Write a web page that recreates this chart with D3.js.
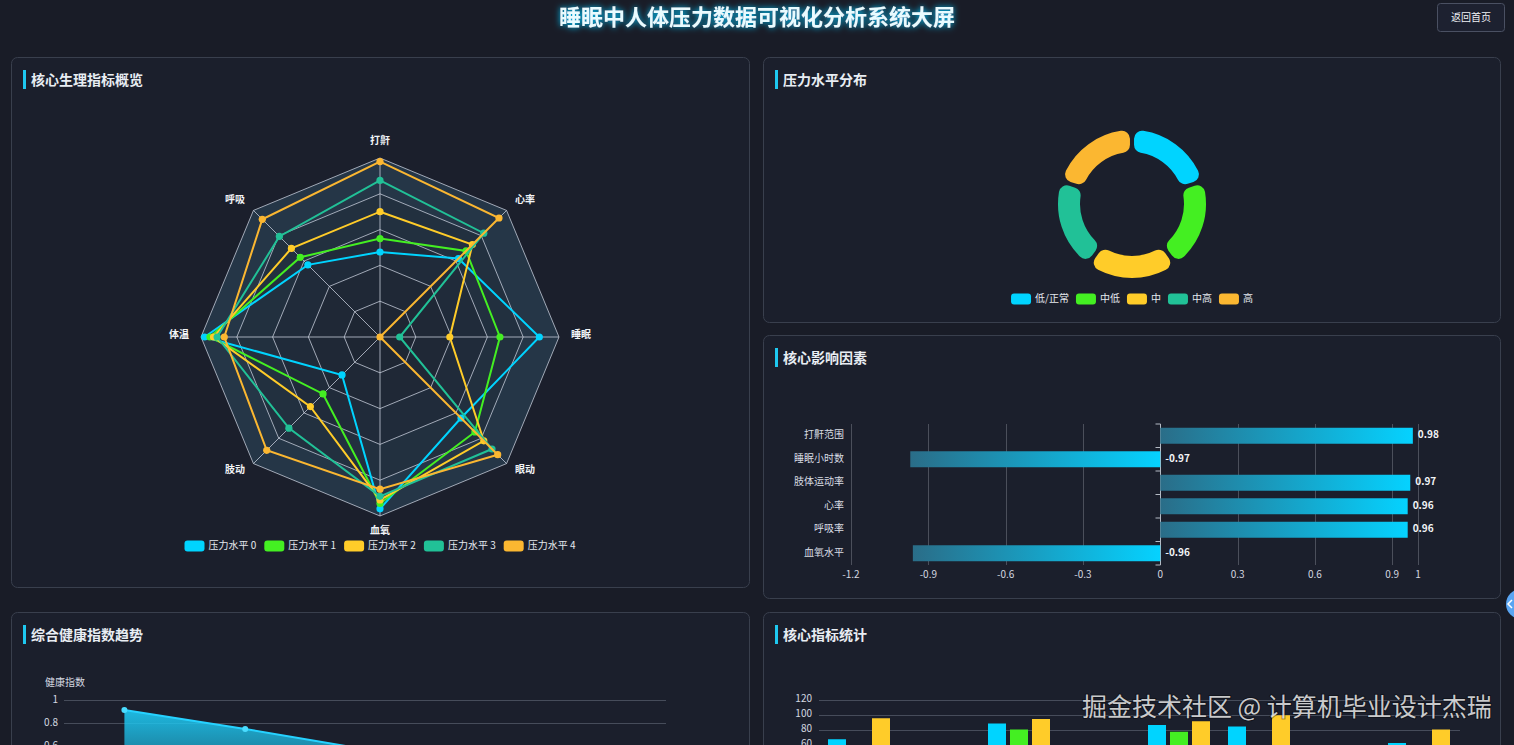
<!DOCTYPE html>
<html><head><meta charset="utf-8">
<script src="https://cdn.jsdelivr.net/npm/d3@7"></script>
<style>
html,body{margin:0;padding:0;background:#191c27;overflow:hidden}
svg{display:block;font-family:"Noto Sans CJK SC","Noto Sans",sans-serif}
</style></head><body>
<svg id="c" width="1514" height="745"></svg>
<script>
// ---------------- data ----------------
const radarIndicators = ['打鼾','心率','睡眠','眼动','血氧','肢动','体温','呼吸'];
const radarSeriesNames = ['压力水平 0','压力水平 1','压力水平 2','压力水平 3','压力水平 4'];
const radarLevel0 = [47.5, 62, 89, 64, 96, 30, 98, 57];
const radarLevel1 = [55, 68, 67, 75, 93, 45, 95, 63];
const radarLevel2 = [70, 73, 39, 82, 91, 55, 93, 70];
const radarLevel3 = [87.5, 82, 11, 88.5, 89, 72, 91, 79.5];
const radarLevel4 = [98, 94, 0, 93, 85, 89.5, 87, 93];
const radarMax = 100;

const stressLevels = ['低/正常','中低','中','中高','高'];
const stressCounts = [126, 126, 126, 126, 126];

const factorNames = ['打鼾范围','睡眠小时数','肢体运动率','心率','呼吸率','血氧水平'];
const factorCorr = [0.98, -0.97, 0.97, 0.96, 0.96, -0.96];
const factorTicks = [-1.2, -0.9, -0.6, -0.3, 0, 0.3, 0.6, 0.9, 1];

const trendCategories = ['压力水平 0','压力水平 1','压力水平 2','压力水平 3','压力水平 4'];
const trendValues = [0.913, 0.748, 0.57, 0.40, 0.22];
const trendTicks = [0, 0.2, 0.4, 0.6, 0.8, 1];

const statCategories = ['打鼾','呼吸','体温','肢动','血氧','眼动','睡眠','心率'];
const statSeriesNames = ['压力水平 0','压力水平 2','压力水平 4'];
const statSeriesA = [67, 45, 88, 40, 86, 84, 35, 62];
const statSeriesB = [50, 38, 80, 30, 77, 52, 28, 48];
const statSeriesC = [95, 50, 94, 42, 91, 99, 38, 80];
const statTicks = [0, 20, 40, 60, 80, 100, 120];

const palette = ['#00d4ff','#44ef22','#ffcc29','#21c197','#fbb731'];

// ---------------- setup ----------------
const W = 1514, H = 745;
const svg = d3.select('#c');
const defs = svg.append('defs');

const glow = defs.append('filter').attr('id','glow')
  .attr('x','-10%').attr('y','-60%').attr('width','120%').attr('height','220%');
glow.append('feGaussianBlur').attr('in','SourceAlpha').attr('stdDeviation',3).attr('result','b');
glow.append('feFlood').attr('flood-color','#00c8ff').attr('flood-opacity',1);
glow.append('feComposite').attr('in2','b').attr('operator','in').attr('result','g');
const gm = glow.append('feMerge');
gm.append('feMergeNode').attr('in','g');
gm.append('feMergeNode').attr('in','SourceGraphic');

svg.append('rect').attr('width',W).attr('height',H).attr('fill','#191c27');

// title
svg.append('text').attr('x',757).attr('y',19).attr('text-anchor','middle')
  .attr('dominant-baseline','middle').attr('font-size',22).attr('font-weight','bold')
  .attr('fill','#e8fbff').attr('filter','url(#glow)')
  .text('睡眠中人体压力数据可视化分析系统大屏');

// back button
svg.append('rect').attr('x',1437.5).attr('y',3.5).attr('width',67).attr('height',28).attr('rx',3)
  .attr('fill','#1d2130').attr('stroke','#4a5062');
svg.append('text').attr('x',1471).attr('y',18).attr('text-anchor','middle')
  .attr('dominant-baseline','middle').attr('font-size',10).attr('fill','#f0f2f5').text('返回首页');

// panels
const panels = [
  {x:11, y:57, w:738, h:530, t:'核心生理指标概览'},
  {x:763, y:57, w:737, h:265, t:'压力水平分布'},
  {x:763, y:335, w:737, h:263, t:'核心影响因素'},
  {x:11, y:612, w:738, h:300, t:'综合健康指数趋势'},
  {x:763, y:612, w:737, h:300, t:'核心指标统计'}
];
panels.forEach(p => {
  svg.append('rect').attr('x',p.x+0.5).attr('y',p.y+0.5).attr('width',p.w).attr('height',p.h)
    .attr('rx',6).attr('fill','#1b1f2c').attr('stroke','#393f4d');
  svg.append('rect').attr('x',p.x+12).attr('y',p.y+13).attr('width',3).attr('height',19).attr('fill','#1ec8f0');
  svg.append('text').attr('x',p.x+20).attr('y',p.y+24).attr('dominant-baseline','middle')
    .attr('font-size',14).attr('font-weight','bold').attr('fill','#e8edf3').text(p.t);
});

// legend helper
function legend(names, colors, cx, cy, gap, textOff) {
  const g = svg.append('g');
  const items = names.map((n,i) => {
    const it = g.append('g');
    it.append('rect').attr('width',20).attr('height',11).attr('rx',3).attr('y',-5.5).attr('fill',colors[i]);
    const t = it.append('text').attr('x',20+textOff).attr('dominant-baseline','middle')
      .attr('font-size',10).attr('fill','#e4e8ee').text(n);
    return {it, w: 20 + textOff + t.node().getComputedTextLength()};
  });
  const total = d3.sum(items, d=>d.w) + gap*(items.length-1);
  let x = cx - total/2;
  items.forEach(d => { d.it.attr('transform',`translate(${x},${cy})`); x += d.w + gap; });
}

// ---------------- radar ----------------
{
  const cx = 380, cy = 337, R = 179, N = radarIndicators.length, levels = 5;
  const r = d3.scaleLinear([0, radarMax], [0, R]);
  const ang = i => i * 2 * Math.PI / N;
  const pt = (i, v) => [cx + r(v)*Math.sin(ang(i)), cy - r(v)*Math.cos(ang(i))];
  const ring = v => 'M' + d3.range(N).map(i => pt(i, v).join(',')).join('L') + 'Z';
  const g = svg.append('g');
  const alphas = [0.05, 0.07, 0.09, 0.12, 0.17];
  for (let k = 1; k <= levels; k++) {
    g.append('path').attr('d', ring(radarMax*k/levels) + ring(radarMax*(k-1)/levels || 0.0001))
      .attr('fill-rule','evenodd').attr('fill', `rgba(90,170,205,${alphas[k-1]})`);
  }
  for (let k = 1; k <= levels; k++) {
    g.append('path').attr('d', ring(radarMax*k/levels)).attr('fill','none')
      .attr('stroke','rgba(205,212,225,0.75)').attr('stroke-width',1);
  }
  radarIndicators.forEach((name, i) => {
    const [x2, y2] = pt(i, radarMax);
    g.append('line').attr('x1',cx).attr('y1',cy).attr('x2',x2).attr('y2',y2)
      .attr('stroke','rgba(205,212,225,0.75)').attr('stroke-width',1);
    const s = Math.sin(ang(i)), c = Math.cos(ang(i));
    const lx = cx + (R+12)*s, ly = cy - (R+12)*c;
    const anchor = Math.abs(s) < 0.01 ? 'middle' : (s > 0 ? 'start' : 'end');
    const yy = ly - 2 - (c > 0.99 ? 3 : 0) + (c < -0.99 ? 5 : 0);
    g.append('text').attr('x',lx).attr('y',yy).attr('text-anchor',anchor)
      .attr('dominant-baseline','middle').attr('font-size',10).attr('font-weight','bold')
      .attr('fill','#f2f4f7').text(name);
  });
  const series = [radarLevel0, radarLevel1, radarLevel2, radarLevel3, radarLevel4];
  const line = d3.line().curve(d3.curveLinearClosed);
  series.forEach((vals, si) => {
    const pts = vals.map((v,i) => pt(i, v));
    g.append('path').attr('d', line(pts)).attr('fill','none')
      .attr('stroke', palette[si]).attr('stroke-width',2);
    g.selectAll(null).data(pts).join('circle').attr('cx',d=>d[0]).attr('cy',d=>d[1])
      .attr('r',3.6).attr('fill',palette[si]);
  });
  legend(radarSeriesNames, palette, 380, 546, 8, 4);
}

// ---------------- donut ----------------
{
  const cx = 1132, cy = 204;
  const pie = d3.pie().sort(null).padAngle(0.045)(stressCounts);
  const arc = d3.arc().innerRadius(52).outerRadius(74).cornerRadius(8);
  svg.append('g').attr('transform',`translate(${cx},${cy})`)
    .selectAll('path').data(pie).join('path').attr('d', arc)
    .attr('fill', (d,i) => palette[i]);
  legend(stressLevels, palette, 1132, 299, 7, 4);
}

// ---------------- factor bars ----------------
{
  const x = d3.scaleLinear([-1.2, 1], [851, 1418]);
  const y = d3.scaleBand(factorNames, [424, 565]).paddingInner(0.32).paddingOuter(0.16);
  const g = svg.append('g');
  const grad = defs.append('linearGradient').attr('id','barGrad').attr('x1',0).attr('x2',1).attr('y1',0).attr('y2',0);
  grad.append('stop').attr('offset',0).attr('stop-color','#2a6d88');
  grad.append('stop').attr('offset',1).attr('stop-color','#05d2ff');
  factorTicks.forEach(t => {
    if (t === 0) return;
    g.append('line').attr('x1',Math.round(x(t))+0.5).attr('x2',Math.round(x(t))+0.5)
      .attr('y1',424).attr('y2',565).attr('stroke','rgba(200,206,216,0.28)');
  });
  factorTicks.forEach(t => {
    g.append('text').attr('x',x(t)).attr('y',575).attr('text-anchor','middle')
      .attr('dominant-baseline','middle').attr('font-size',10).attr('fill','#d4d8e0').text(String(t));
  });
  const x0 = Math.round(x(0)) + 0.5;
  g.append('line').attr('x1',x0).attr('x2',x0).attr('y1',424).attr('y2',565)
    .attr('stroke','#b4bac4');
  const step = y.step();
  d3.range(factorNames.length + 1).forEach(k => {
    const yy = 424 + k*step;
    g.append('line').attr('x1',x0-5).attr('x2',x0).attr('y1',yy).attr('y2',yy).attr('stroke','#b4bac4');
  });
  factorNames.forEach((n, i) => {
    const v = factorCorr[i];
    const yc = y(n) + y.bandwidth()/2;
    g.append('text').attr('x',844).attr('y',yc).attr('text-anchor','end')
      .attr('dominant-baseline','middle').attr('font-size',10).attr('fill','#d8dce3').text(n);
    g.append('rect').attr('x', Math.min(x(0), x(v))).attr('y', y(n))
      .attr('width', Math.abs(x(v) - x(0))).attr('height', y.bandwidth())
      .attr('fill','url(#barGrad)');
    g.append('text').attr('x', (v > 0 ? x(v) : x(0)) + 5).attr('y', yc)
      .attr('dominant-baseline','middle').attr('font-size',10).attr('font-weight','bold')
      .attr('fill','#f2f4f7').text(v.toFixed(2));
  });
}

// ---------------- trend area ----------------
{
  const x = d3.scaleBand(trendCategories, [64, 668]);
  const y = d3.scaleLinear([0, 1], [815, 700]);
  const g = svg.append('g');
  trendTicks.forEach(t => {
    g.append('line').attr('x1',64).attr('x2',666).attr('y1',Math.round(y(t))+0.5).attr('y2',Math.round(y(t))+0.5)
      .attr('stroke','#464c5a');
    if (y(t) - 6 < H) {
      g.append('text').attr('x',58).attr('y',y(t)).attr('text-anchor','end')
        .attr('dominant-baseline','middle').attr('font-size',10).attr('fill','#d4d8e0').text(String(t));
    }
  });
  g.append('text').attr('x',45).attr('y',683).attr('dominant-baseline','middle')
    .attr('font-size',10).attr('fill','#d4d8e0').text('健康指数');
  const ag = defs.append('linearGradient').attr('id','areaGrad').attr('gradientUnits','userSpaceOnUse')
    .attr('x1',0).attr('x2',0).attr('y1',700).attr('y2',815);
  ag.append('stop').attr('offset',0).attr('stop-color','#1ec8f2').attr('stop-opacity',0.98);
  ag.append('stop').attr('offset',1).attr('stop-color','#1ec8f2').attr('stop-opacity',0.15);
  const cxp = c => x(c) + x.bandwidth()/2;
  const pts = trendCategories.map((c,i) => [cxp(c), y(trendValues[i])]);
  g.append('path').attr('d', d3.area().x(d=>d[0]).y0(y(0)).y1(d=>d[1])(pts)).attr('fill','url(#areaGrad)');
  g.append('path').attr('d', d3.line()(pts)).attr('fill','none').attr('stroke','#26d2ff').attr('stroke-width',2);
  g.selectAll(null).data(pts).join('circle').attr('cx',d=>d[0]).attr('cy',d=>d[1]).attr('r',3)
    .attr('fill','#4adcff');
}

// ---------------- grouped bars ----------------
{
  const x = d3.scaleBand(statCategories, [819, 1459]);
  const xs = d3.scaleBand([0,1,2], [0, x.bandwidth()]).paddingInner(0.1818).paddingOuter(0.409);
  const y = d3.scaleLinear([0, 120], [789.5, 699.5]);
  const g = svg.append('g');
  statTicks.forEach(t => {
    g.append('line').attr('x1',819).attr('x2',1460).attr('y1',Math.round(y(t))+0.5).attr('y2',Math.round(y(t))+0.5)
      .attr('stroke','#464c5a');
    if (y(t) - 6 < H) {
      g.append('text').attr('x',812).attr('y',y(t)).attr('text-anchor','end')
        .attr('dominant-baseline','middle').attr('font-size',10).attr('fill','#d4d8e0').text(String(t));
    }
  });
  const series = [statSeriesA, statSeriesB, statSeriesC];
  series.forEach((vals, si) => {
    g.selectAll(null).data(vals).join('rect')
      .attr('x', (d,i) => x(statCategories[i]) + xs(si)).attr('width', xs.bandwidth())
      .attr('y', d => y(d)).attr('height', d => y(0) - y(d)).attr('fill', palette[si]);
  });
}

// side handle
svg.append('circle').attr('cx',1521).attr('cy',604).attr('r',15).attr('fill','#5aa5f2');
svg.append('path').attr('d','M1512,600 L1508,604 L1512,608').attr('fill','none')
  .attr('stroke','#ffffff').attr('stroke-width',1.5);

// watermark
svg.append('text').attr('x',1082).attr('y',709).attr('dominant-baseline','middle')
  .attr('font-size',25).attr('fill','rgba(236,236,236,0.85)')
  .attr('stroke','rgba(0,0,0,0.35)').attr('stroke-width',2).attr('paint-order','stroke')
  .text('掘金技术社区 @ 计算机毕业设计杰瑞');
</script>
</body></html>
